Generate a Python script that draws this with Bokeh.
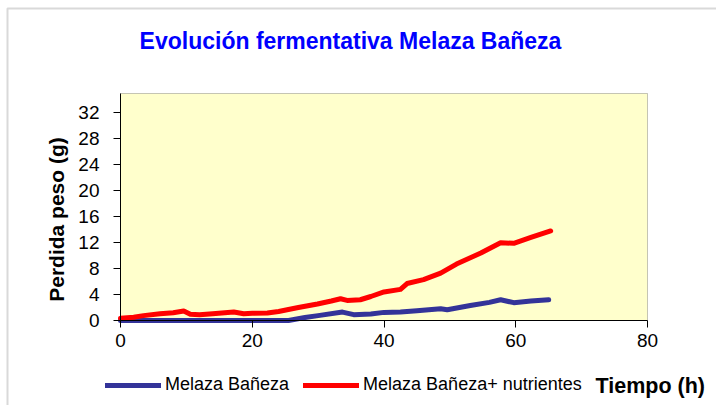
from math import pi
from bokeh.plotting import figure
from bokeh.models import (Range1d, FixedTicker, Label, Legend, LegendItem, LinearAxis,
                          BoxAnnotation)
from bokeh.embed import file_html
from bokeh.resources import INLINE

# ---- data ----
t_blue = [0, 10, 20, 25.5, 28, 30, 33.7, 35.4, 38, 40, 42.5, 45, 48.6, 49.6, 53.1, 56, 57.7, 59.7, 62.3, 65]
blue = [0, 0, 0, 0, 0.45, 0.75, 1.3, 0.9, 1.0, 1.25, 1.3, 1.5, 1.8, 1.65, 2.3, 2.8, 3.2, 2.75, 3.0, 3.2]

t_red = [0, 2, 3.5, 6, 8, 9.6, 10.6, 12, 14, 17.2, 18.7, 20, 22.3, 24, 25.3, 27, 29.9, 32, 33.4, 34.4,
         36.4, 38, 40, 42.5, 43.5, 46, 48.6, 51, 54.7, 57.7, 59.7, 62.3, 65.3]
red = [0.35, 0.5, 0.75, 1.05, 1.2, 1.45, 0.95, 0.9, 1.05, 1.3, 1.05, 1.1, 1.15, 1.4, 1.65, 2.0, 2.55, 3.0, 3.35, 3.1,
       3.2, 3.7, 4.4, 4.8, 5.7, 6.3, 7.3, 8.7, 10.4, 12.0, 11.9, 12.8, 13.8]

x_ticks = [0, 20, 40, 60, 80]
y_ticks = [0, 4, 8, 12, 16, 20, 24, 28, 32]
x_min, x_max = 0, 80
y_min, y_max = 0, 35

title_text = "Evolución fermentativa Melaza Bañeza"
y_label = "Perdida peso (g)"
x_label = "Tiempo (h)"
series_names = ["Melaza Bañeza", "Melaza Bañeza+ nutrientes"]

FONT = "Liberation Sans"

# canvas geometry: plot area occupies pixels x 120..647, y 93..320 of a 716x405 canvas
W, H = 716, 405
PL, PR, PT, PB = 120, 647, 93, 320
sx = (PR - PL) / (x_max - x_min)
sy = (PB - PT) / (y_max - y_min)
xr = Range1d(x_min - PL / sx, x_max + (W - PR) / sx)
yr = Range1d(y_min - (H - PB) / sy, y_max + PT / sy)


def dx(px):
    return x_min + (px - PL) / sx


def dy(py):
    return y_min + (PB - py) / sy


p = figure(width=W, height=H, output_backend="svg", toolbar_location=None,
           x_range=xr, y_range=yr, x_axis_location=None, y_axis_location=None, min_border=0)
p.title.visible = False
p.background_fill_color = "white"
p.border_fill_color = "white"
p.outline_line_color = None
p.grid.visible = False

# outer chart border (top and left visible)
p.add_layout(BoxAnnotation(left=dx(7), right=dx(W + 20), top=dy(8), bottom=dy(H + 20),
                           fill_alpha=0, line_color="#808080", line_width=2, level="underlay"))
# plot area
p.add_layout(BoxAnnotation(left=x_min, right=x_max, bottom=y_min, top=y_max,
                           fill_color="#FFFFCC", fill_alpha=1, line_color="#404040", line_width=1,
                           level="underlay"))

xaxis = LinearAxis(fixed_location=y_min, bounds=(x_min, x_max), ticker=FixedTicker(ticks=x_ticks))
yaxis = LinearAxis(fixed_location=x_min, bounds=(y_min, y_max), ticker=FixedTicker(ticks=y_ticks))
p.add_layout(xaxis, "below")
p.add_layout(yaxis, "left")
for ax in (xaxis, yaxis):
    ax.axis_line_color = "black"
    ax.major_tick_line_color = "black"
    ax.minor_tick_line_color = None
    ax.major_tick_in = 0
    ax.major_tick_out = 7
    ax.major_label_text_font = FONT
    ax.major_label_text_font_size = "19px"
    ax.major_label_text_color = "black"
xaxis.major_label_standoff = 6
yaxis.major_label_standoff = 14

r_blue = p.line(t_blue, blue, line_color="#333399", line_width=5, line_join="round", line_cap="round")
r_red = p.line(t_red, red, line_color="#FF0000", line_width=5, line_join="round", line_cap="round")

p.add_layout(Label(x=dx(350), y=dy(40), text=title_text, text_font=FONT, text_font_size="23px",
                   text_font_style="bold", text_color="#0000FF", text_align="center",
                   text_baseline="middle"))
p.add_layout(Label(x=dx(56), y=dy(219), text=y_label, angle=pi / 2, text_font=FONT,
                   text_font_size="21px", text_font_style="bold", text_color="black",
                   text_align="center", text_baseline="middle"))
p.add_layout(Label(x=dx(595), y=dy(385), text=x_label, text_font=FONT, text_font_size="21.5px",
                   text_font_style="bold", text_color="black", text_align="left",
                   text_baseline="middle"))

legend = Legend(items=[LegendItem(label=series_names[0], renderers=[r_blue]),
                       LegendItem(label=series_names[1], renderers=[r_red])],
                orientation="horizontal", location=(105, 10),
                glyph_width=56, glyph_height=20, label_standoff=4, spacing=14,
                padding=0, margin=0, border_line_color=None, background_fill_alpha=0,
                label_text_font=FONT, label_text_font_size="18px", label_text_color="black")
p.add_layout(legend)

open("out.html", "w").write(file_html(p, INLINE))
